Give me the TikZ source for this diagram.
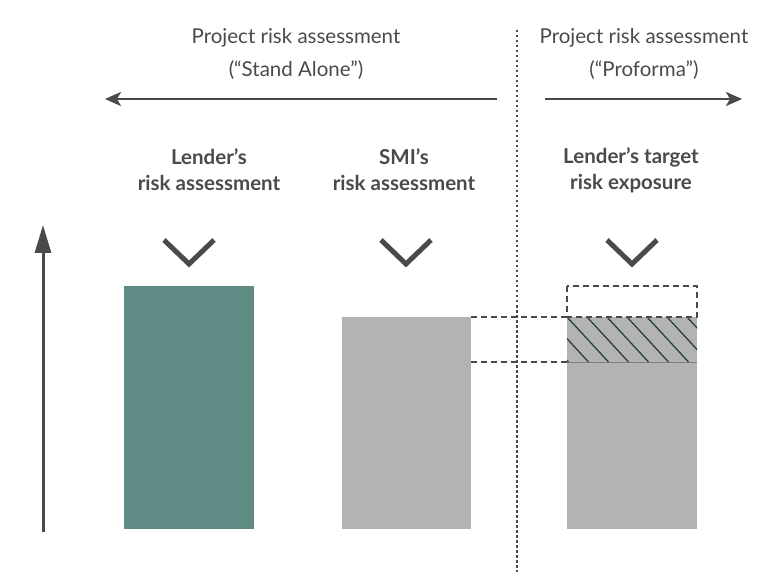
\documentclass[tikz,border=0pt]{standalone}
\usepackage{fontspec}
\setmainfont{Lato}
\usetikzlibrary{arrows.meta}
\definecolor{teal}{HTML}{5E8C84}
\definecolor{bargray}{HTML}{B3B3B3}
\definecolor{ink}{HTML}{4A4A4A}
\definecolor{hatch}{HTML}{1E3A34}
\begin{document}
\begin{tikzpicture}
        [x=1pt, y=-1pt,
        title/.style={align=center, font=\fontsize{20.5}{33}\selectfont, text=ink},
        label/.style={align=center, font=\fontsize{20.5}{26}\selectfont\bfseries, text=ink},
        bar/.style={draw=none, inner sep=0pt, anchor=north west},
        chevron/.style={ink, line width=5pt},
        guide/.style={ink, line width=2pt, dash pattern=on 6pt off 4pt},
        arrow/.style={ink, line width=2.5pt, -{Stealth[length=16pt,width=14pt,inset=4pt]}}]

        \useasboundingbox (0,0) rectangle (774,572);

        % Titles above the two directions
        \node[title] (standalone) at (296,54) {Project risk assessment\\(“Stand Alone”)};
        \node[title] (proforma) at (644,54) {Project risk assessment\\(“Proforma”)};

        % Split line and direction arrows
        \coordinate (top) at (517,30);
        \coordinate (bottom) at (517,572);
        \draw[ink, line width=2pt, dash pattern=on 2.5pt off 2.5pt] (top) -- (bottom);
        \coordinate (lstart) at (497,99);
        \coordinate (lend) at (105,99);
        \coordinate (rstart) at (545,99);
        \coordinate (rend) at (742,99);
        \draw[arrow] (lstart) -- (lend);
        \draw[arrow] (rstart) -- (rend);

        % Column headings
        \node[label] (lender) at (209,170) {Lender’s\\risk assessment};
        \node[label] (smi) at (404,170) {SMI’s\\risk assessment};
        \node[label] (target) at (631,170) {Lender’s target\\risk exposure};

        % Chevrons
        \foreach \cx in {189,406,632}
            \draw[chevron] (\cx-25,240) -- (\cx,264) -- (\cx+25,240);

        % Bars
        \node[bar, fill=teal, minimum width=130pt, minimum height=243pt] (lbar) at (124,286) {};
        \node[bar, fill=bargray, minimum width=129pt, minimum height=212pt] (sbar) at (342,317) {};
        \node[bar, fill=bargray, minimum width=130pt, minimum height=212pt] (tbar) at (567,317) {};

        % Hatched band on the target bar
        \coordinate (hnw) at (567,317);
        \coordinate (hse) at (697,362);
        \begin{scope}
            \clip (hnw) rectangle (hse);
            \foreach \k in {-60,-40,...,140}
                \draw[hatch, line width=1.2pt] (567+\k,317) -- ++(48,52);
        \end{scope}
        \draw[ink!70, line width=1pt] (567,362) -- (697,362);

        % Dashed box and guide lines
        \coordinate (bnw) at (567,286);
        \coordinate (bse) at (697,317);
        \draw[guide] (bnw) rectangle (bse);
        \coordinate (g1) at (471,317);
        \coordinate (g2) at (471,362);
        \draw[guide] (g1) -- (hnw);
        \draw[guide] (g2) -- (567,362);

        % Vertical axis arrow
        \coordinate (ybot) at (43,532);
        \coordinate (ytop) at (43,225);
        \draw[ink, line width=3pt, -{Stealth[length=28pt,width=16pt,inset=0pt]}] (ybot) -- (ytop);

    \end{tikzpicture}
\end{document}
